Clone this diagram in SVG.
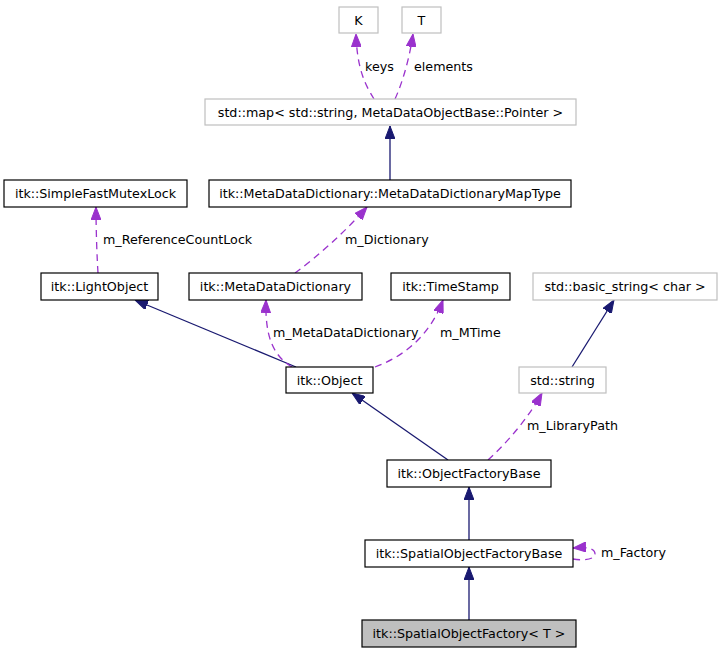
<svg xmlns="http://www.w3.org/2000/svg" width="723" height="653" viewBox="0 0 723 653">
<style>
.n rect{fill:#fff;stroke:#000;stroke-width:1.2}
.n.g rect{stroke:#bfbfbf}
.n.h rect{fill:#bfbfbf}
text{font-family:"DejaVu Sans","Liberation Sans",sans-serif;font-size:12.7px;fill:#000}
.n text{text-anchor:middle}
.inh{fill:none;stroke:#191970;stroke-width:1.3}
.use{fill:none;stroke:#9a32cd;stroke-width:1.3;stroke-dasharray:7,5}
</style>
<defs>
<marker id="an" viewBox="0 0 13 10" refX="13" refY="5" markerWidth="13" markerHeight="10" markerUnits="userSpaceOnUse" orient="auto">
<path d="M0,0 L13,5 L0,10 z" fill="#191970" stroke="#191970"/>
</marker>
<marker id="ap" viewBox="0 0 13 10" refX="13" refY="5" markerWidth="13" markerHeight="10" markerUnits="userSpaceOnUse" orient="auto">
<path d="M0,0 L13,5 L0,10 z" fill="#9a32cd" stroke="#9a32cd" stroke-dasharray="none"/>
</marker>
</defs>
<rect width="723" height="653" fill="#fff"/>
<g id="edges">
<path class="use" d="M374,99 C366,86 357,70 356,34" marker-end="url(#ap)"/>
<text x="365" y="71">keys</text>
<path class="use" d="M395,99 C401,86 409,62 413,34" marker-end="url(#ap)"/>
<text x="414" y="71">elements</text>
<path class="inh" d="M390,180 L390,126" marker-end="url(#an)"/>
<path class="use" d="M98,273 C97,258 96,230 96,207" marker-end="url(#ap)"/>
<text x="103" y="244">m_ReferenceCountLock</text>
<path class="use" d="M295,273 C318,256 345,232 367,207" marker-end="url(#ap)"/>
<text x="345" y="244">m_Dictionary</text>
<path class="inh" d="M296,367 L135,300" marker-end="url(#an)"/>
<path class="use" d="M292,367 C272,355 265,335 266,300" marker-end="url(#ap)"/>
<text x="273" y="337">m_MetaDataDictionary</text>
<path class="use" d="M375,367 C405,356 430,335 443,300" marker-end="url(#ap)"/>
<text x="440" y="337">m_MTime</text>
<path class="inh" d="M572,367 L614,300" marker-end="url(#an)"/>
<path class="inh" d="M448,460 L352,393" marker-end="url(#an)"/>
<path class="use" d="M488,460 C510,440 530,415 542,393" marker-end="url(#ap)"/>
<text x="527" y="430">m_LibraryPath</text>
<path class="inh" d="M469,540 L469,487" marker-end="url(#an)"/>
<path class="use" d="M573,559 C585,561 595,559 595,554 C595,548 586,547 573,548" marker-end="url(#ap)"/>
<text x="601" y="557">m_Factory</text>
<path class="inh" d="M469,620 L469,567" marker-end="url(#an)"/>
</g>
<g id="K" class="n g"><rect x="339" y="7" width="39" height="26"/><text x="358.5" y="25">K</text></g>
<g id="T" class="n g"><rect x="402" y="7" width="39" height="26"/><text x="421.5" y="25">T</text></g>
<g id="stdmap" class="n g"><rect x="205" y="99" width="371" height="26"/><text x="390.5" y="117">std::map&lt; std::string, MetaDataObjectBase::Pointer &gt;</text></g>
<g id="SimpleFastMutexLock" class="n"><rect x="4" y="180" width="183" height="27"/><text x="95.5" y="198">itk::SimpleFastMutexLock</text></g>
<g id="MapType" class="n"><rect x="209" y="180" width="362" height="27"/><text x="390" y="198">itk::MetaDataDictionary::MetaDataDictionaryMapType</text></g>
<g id="LightObject" class="n"><rect x="41" y="273" width="117" height="27"/><text x="99.5" y="291">itk::LightObject</text></g>
<g id="MetaDataDictionary" class="n"><rect x="189" y="273" width="173" height="27"/><text x="275.5" y="291">itk::MetaDataDictionary</text></g>
<g id="TimeStamp" class="n"><rect x="391" y="273" width="119" height="27"/><text x="450.5" y="291">itk::TimeStamp</text></g>
<g id="basic_string" class="n g"><rect x="533" y="273" width="184" height="27"/><text x="625" y="291">std::basic_string&lt; char &gt;</text></g>
<g id="Object" class="n"><rect x="286" y="367" width="87" height="26"/><text x="329.5" y="385">itk::Object</text></g>
<g id="stdstring" class="n g"><rect x="519" y="367" width="87" height="26"/><text x="562.5" y="385">std::string</text></g>
<g id="ObjectFactoryBase" class="n"><rect x="387" y="460" width="164" height="27"/><text x="469" y="478">itk::ObjectFactoryBase</text></g>
<g id="SpatialObjectFactoryBase" class="n"><rect x="365" y="540" width="208" height="27"/><text x="469" y="558">itk::SpatialObjectFactoryBase</text></g>
<g id="SpatialObjectFactory" class="n h"><rect x="362" y="620" width="214" height="27"/><text x="469" y="638">itk::SpatialObjectFactory&lt; T &gt;</text></g>
</svg>
